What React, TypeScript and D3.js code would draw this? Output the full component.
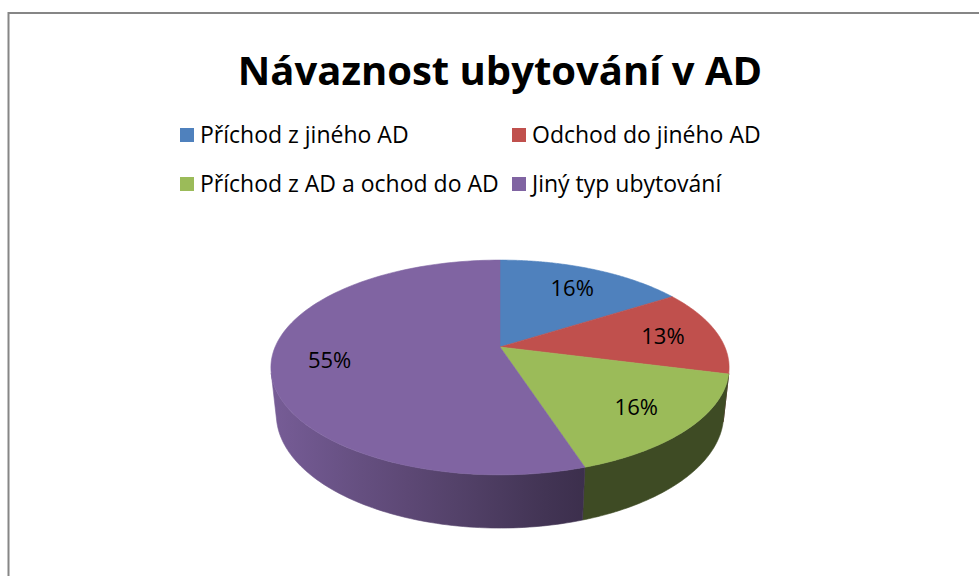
import React from "react";
import * as d3 from "d3";

const title = "Návaznost ubytování v AD";
const categories = [
  "Příchod z jiného AD",
  "Odchod do jiného AD",
  "Příchod z AD a ochod do AD",
  "Jiný typ ubytování",
];
const values = [16, 13, 16, 55];
const colors = ["#4F81BD", "#C0504D", "#9BBB59", "#8064A2"];

const W = 979;
const H = 576;
const FONT = "'Open Sans', Lato, sans-serif";

// 3D projection parameters
const CX = 500;
const CY = 347;
const ALPHA = (27.4 * Math.PI) / 180;
const D = 4.66;
const F = 1048;
const T = 0.237;
const SA = Math.sin(ALPHA);
const CA = Math.cos(ALPHA);

function proj(x: number, y: number, z: number): [number, number] {
  const dep = D - (y * SA + z * CA);
  const v = y * CA - z * SA;
  return [CX + (F * x) / dep, CY - (F * v) / dep];
}
function rim(theta: number, y: number, r = 1): [number, number] {
  return proj(r * Math.sin(theta), y, -r * Math.cos(theta));
}

function shadeFactor(sx: number, idx: number) {
  if (idx === 2) return 0.4;
  if (idx === 1) return 0.42;
  const t = Math.max(0, Math.min(1, (sx - 269) / (585 - 269)));
  return 0.93 - t * (0.93 - 0.46);
}

export default function App() {
  const pie = d3
    .pie<number>()
    .sort(null)
    .value((d) => d)(values);

  const visStart = Math.acos(-1 / (D * CA));
  const visEnd = 2 * Math.PI - visStart;

  const legendItems = categories.map((c, i) => ({
    c,
    i,
    col: i % 2,
    row: Math.floor(i / 2),
  }));
  const legendX = [180, 512];
  const legendY = [143, 192];

  const fmt = d3.format(".0%");
  const total = d3.sum(values);

  return (
    <svg
      width={W}
      height={H}
      style={{ position: "absolute", left: 0, top: 0, background: "#fff" }}
    >
      <defs>
        {pie.map((p, i) => {
          const base = d3.rgb(colors[i]);
          const stops = d3.range(0, 11).map((k) => {
            const sx = 269 + (k / 10) * (731 - 269);
            const f = shadeFactor(sx, i);
            return {
              off: k / 10,
              col: d3.rgb(base.r * f, base.g * f, base.b * f).formatHex(),
            };
          });
          return (
            <linearGradient
              key={i}
              id={`side${i}`}
              gradientUnits="userSpaceOnUse"
              x1={269}
              x2={731}
              y1={0}
              y2={0}
            >
              {stops.map((s, k) => (
                <stop key={k} offset={s.off} stopColor={s.col} />
              ))}
            </linearGradient>
          );
        })}
      </defs>
      <rect x={0} y={0} width={W} height={H} fill="#fff" />
      <rect
        x={8.5}
        y={13}
        width={1000}
        height={600}
        fill="#fff"
        stroke="#868686"
        strokeWidth={2}
      />
      <text
        x={500}
        y={85}
        textAnchor="middle"
        fontFamily={FONT}
        fontWeight="bold"
        fontSize={40}
        fill="#000"
      >
        {title}
      </text>
      {legendItems.map((l) => (
        <g key={l.i}>
          <rect
            x={legendX[l.col]}
            y={legendY[l.row] - 15}
            width={14}
            height={14}
            fill={colors[l.i]}
          />
          <text
            x={legendX[l.col] + 20}
            y={legendY[l.row]}
            fontFamily={FONT}
            fontSize={23}
            fill="#000"
          >
            {l.c}
          </text>
        </g>
      ))}
      {/* outer walls */}
      {pie.map((p, i) => {
        const a0 = Math.max(p.startAngle, visStart);
        const a1 = Math.min(p.endAngle, visEnd);
        if (a1 <= a0) return null;
        const n = 80;
        const topPts = d3.range(n + 1).map((k) => rim(a0 + ((a1 - a0) * k) / n, 0));
        const botPts = d3
          .range(n + 1)
          .map((k) => rim(a1 - ((a1 - a0) * k) / n, -T));
        const d = d3.line()([...topPts, ...botPts]) + "Z";
        return (
          <path
            key={`w${i}`}
            d={d}
            fill={`url(#side${i})`}
            stroke={`url(#side${i})`}
            strokeWidth={0.6}
          />
        );
      })}
      {/* tops */}
      {pie.map((p, i) => {
        const n = 120;
        const pts = d3
          .range(n + 1)
          .map((k) => rim(p.startAngle + ((p.endAngle - p.startAngle) * k) / n, 0));
        const d = d3.line()([proj(0, 0, 0), ...pts]) + "Z";
        return (
          <path
            key={`t${i}`}
            d={d}
            fill={colors[i]}
            stroke={colors[i]}
            strokeWidth={0.6}
          />
        );
      })}
      {pie.map((p, i) => {
        const mid = (p.startAngle + p.endAngle) / 2;
        const [lx, ly] = rim(mid, 0, 0.75);
        return (
          <text
            key={`l${i}`}
            x={lx}
            y={ly}
            textAnchor="middle"
            dominantBaseline="central"
            fontFamily={FONT}
            fontSize={22}
            fill="#000"
          >
            {fmt(p.data / total)}
          </text>
        );
      })}
    </svg>
  );
}
